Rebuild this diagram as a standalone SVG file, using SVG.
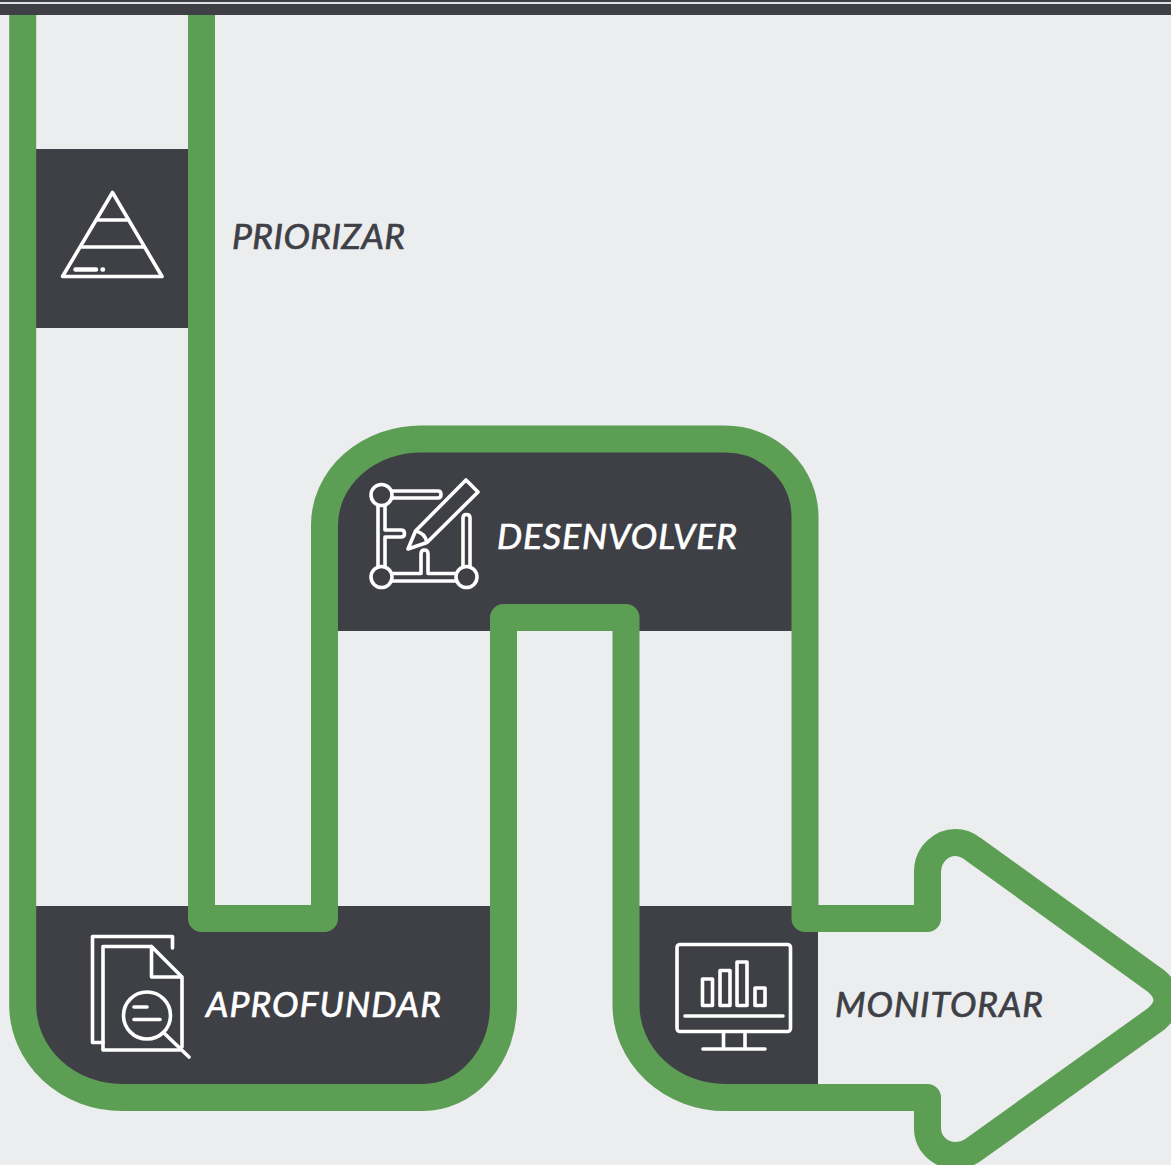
<svg xmlns="http://www.w3.org/2000/svg" width="1171" height="1165" viewBox="0 0 1171 1165">
<style>
.dark{fill:#3e4046}
.ic{fill:none;stroke:#fff;stroke-width:3.6;stroke-linecap:round;stroke-linejoin:round}
.t{font-family:"Lato","Open Sans",sans-serif;font-style:italic;font-size:35.5px;font-weight:400;stroke-width:.7px}
.d{fill:#3e4046;stroke:#3e4046}
.w{fill:#fff;stroke:#fff}
</style>
<rect width="1171" height="1165" fill="#ecedef"/>
<g id="top-bar"><rect width="1171" height="15" fill="#3e4046"/><rect y="2" width="1171" height="2" fill="#dfe0e2"/></g>
<g id="priorizar">
<rect class="dark" x="30" y="149" width="165" height="179"/>
<g class="ic"><path d="M112.500 192.500L162 276.500H62.500Z"/><path d="M97.500 220H128M82 247H144"/><path stroke-width="4.500" d="M75.500 269.500H96M102.500 269.500H103"/></g>
<text class="t d" x="232" y="249" textLength="173">PRIORIZAR</text>
</g>
<g id="desenvolver">
<path class="dark" d="M330 631V525A96 86 0 0 1 421 439H725A80 78 0 0 1 805 517V631Z"/>
<g class="ic">
<circle cx="381.500" cy="495" r="10.500"/><circle cx="381.500" cy="577" r="10.500"/><circle cx="466.500" cy="577" r="10.500"/>
<path d="M392 491H438Q441 491 441 494.500Q441 498 438 498H392"/>
<path d="M378 505.500V566.500M385 505.500V530H401Q404.500 530 404.500 533.500Q404.500 537 401 537H385V566.500"/>
<path d="M392 573.500H421V554Q421 550 424.500 550Q428 550 428 554V573.500H456M392 581H456"/>
<path d="M463 566.500V518Q463 514.500 466.500 514.500Q470 514.500 470 518V566.500"/>
<path d="M408 549L415.500 531L466 480L478 492L427 542.500ZM415.500 531Q425 533 427 542.500"/>
</g>
<text class="t w" x="497" y="549" textLength="240">DESENVOLVER</text>
</g>
<g id="aprofundar">
<path class="dark" d="M22.700 906H503.500V1005A80 92 0 0 1 423 1097.500H122A99.300 92.500 0 0 1 22.700 1005Z"/>
<g class="ic">
<path d="M103 1042.500H92.500V936.500H172.500V948"/>
<path d="M150.500 946.500H103V1050H180M182 1047V977L151.500 946.500V977H182"/>
<circle cx="147" cy="1015.500" r="23.500"/>
<path d="M134 1007H147M134 1019.500H160M164 1033L189 1057"/>
</g>
<text class="t w" x="206" y="1017" textLength="235">APROFUNDAR</text>
</g>
<g id="monitorar">
<path class="dark" d="M626 906H818V1084H805V1097.500H725A99 92.500 0 0 1 626 1005Z"/>
<g class="ic">
<rect x="677" y="944.500" width="113.500" height="87" rx="3"/>
<path d="M685 1016H783"/>
<rect x="702.500" y="979" width="10" height="26.500"/><rect x="720" y="970.500" width="10" height="35"/><rect x="737" y="962" width="10" height="43.500"/><rect x="755" y="988" width="10" height="17.500"/>
<path d="M723.500 1032V1049M745 1032V1049M703 1049H765"/>
</g>
<text class="t d" x="835" y="1017" textLength="208">MONITORAR</text>
</g>
<g id="connectors">
<path fill="none" stroke="#5c9e54" stroke-width="27" stroke-linejoin="round" d="M22.700 15V1005A99.300 92.500 0 0 0 122 1097.500H423A80.500 92.500 0 0 0 503.500 1005V617.500H626V1005A99 92.500 0 0 0 725 1097.500H927.500V1128C927.500 1146 943 1155.500 955 1155.500C962 1155.500 968 1153.500 973 1150L1156 1019Q1178 1000 1156 981L973 849C968 845 962 842.500 955 842.500C943 842.500 927.500 853 927.500 872V918.500H805V517A80 78 0 0 0 725 439H421A96.500 86 0 0 0 324.500 525V918.500H201.500V15"/>
</g>
</svg>
